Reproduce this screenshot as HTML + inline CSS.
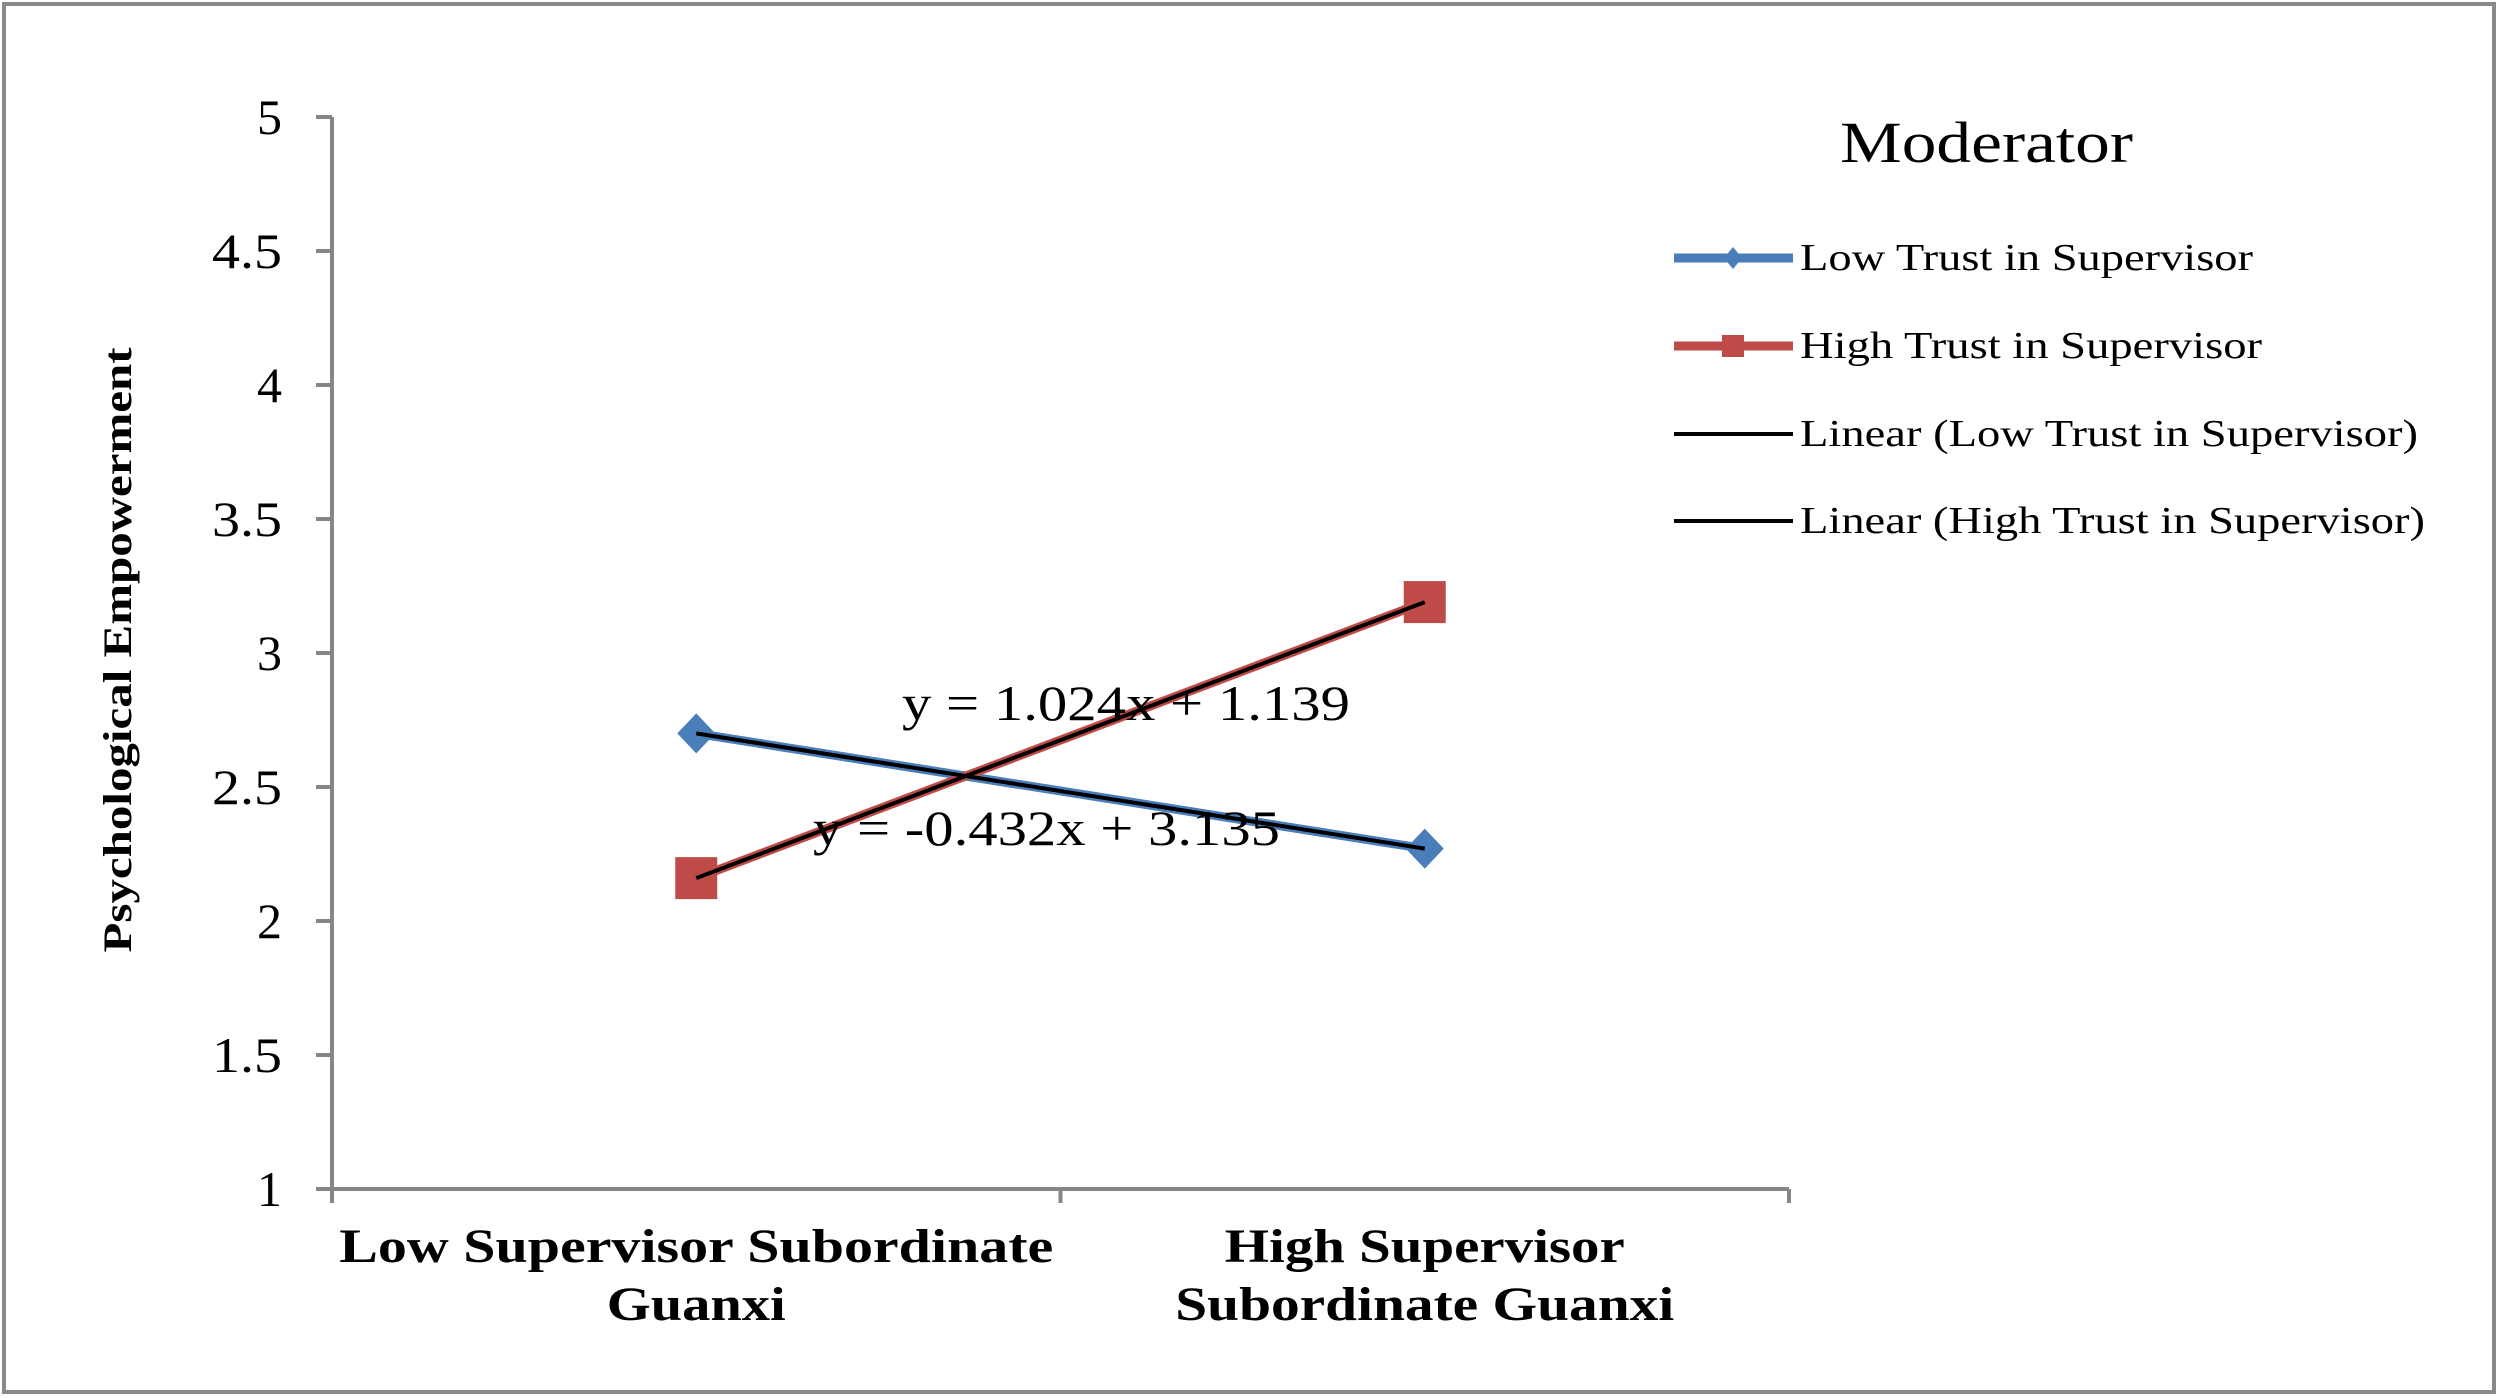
<!DOCTYPE html>
<html><head><meta charset="utf-8"><style>
html,body{margin:0;padding:0;background:#fff}
svg{display:block}
text{font-family:"Liberation Serif",serif}
</style></head><body>
<svg id="chart" width="2500" height="1398" viewBox="0 0 2500 1398">
<rect x="4" y="4" width="2490" height="1388" fill="#fff" stroke="#8a8a8a" stroke-width="4"/>
<g id="axes"></g>
<g id="series"></g>
<text x="131" y="650" transform="rotate(-90 131 650)" text-anchor="middle" font-size="40" font-weight="bold" textLength="605" lengthAdjust="spacingAndGlyphs">Psychological Empowerment</text>
<text x="1840" y="162" font-size="58" textLength="293" lengthAdjust="spacingAndGlyphs">Moderator</text>
<g>
<line x1="1674" y1="258" x2="1793" y2="258" stroke="#4a7ebb" stroke-width="9"/>
<path d="M1733 247 L1742 258 L1733 269 L1724 258Z" fill="#4a7ebb"/>
<text x="1800" y="270" font-size="38" textLength="453" lengthAdjust="spacingAndGlyphs">Low Trust in Supervisor</text></g>
<g>
<line x1="1674" y1="346" x2="1793" y2="346" stroke="#be4b48" stroke-width="9"/>
<rect x="1722" y="335" width="22" height="22" fill="#be4b48"/>
<text x="1800" y="358" font-size="38" textLength="462" lengthAdjust="spacingAndGlyphs">High Trust in Supervisor</text></g>
<g>
<line x1="1674" y1="434" x2="1793" y2="434" stroke="#000" stroke-width="4"/>
<text x="1800" y="446" font-size="38" textLength="618" lengthAdjust="spacingAndGlyphs">Linear (Low Trust in Supervisor)</text></g>
<g>
<line x1="1674" y1="521" x2="1793" y2="521" stroke="#000" stroke-width="4"/>
<text x="1800" y="533" font-size="38" textLength="625" lengthAdjust="spacingAndGlyphs">Linear (High Trust in Supervisor)</text></g>
</svg>
<script>
const categories = ["Low Supervisor Subordinate|Guanxi", "High Supervisor|Subordinate Guanxi"];
const lowTrust = [2.70, 2.27];
const highTrust = [2.16, 3.19];
const yTicks = [1, 1.5, 2, 2.5, 3, 3.5, 4, 4.5, 5];
const eqLabels = ["y = 1.024x + 1.139", "y = -0.432x + 3.135"];

const NS = "http://www.w3.org/2000/svg";
const X0 = 332, X1 = 1789, Y0 = 1189, Y1 = 117, YMIN = 1, YMAX = 5;
const band = (X1 - X0) / categories.length;
const xs = i => X0 + band * (i + 0.5);
const ys = v => Y0 - (v - YMIN) / (YMAX - YMIN) * (Y0 - Y1);
function mk(tag, attrs, parent) {
  const e = document.createElementNS(NS, tag);
  for (const k in attrs) e.setAttribute(k, attrs[k]);
  parent.appendChild(e); return e;
}
const axes = document.getElementById("axes");
const ser = document.getElementById("series");
const yAxis = mk("line", {x1: X0, y1: Y1, x2: X0, y2: Y0, stroke: "#868686", "stroke-width": 4}, axes);


const xAxis = mk("line", {x1: X0, y1: Y0, x2: X1, y2: Y0, stroke: "#868686", "stroke-width": 4}, axes);


yTicks.forEach(t => {
  const y = ys(t);
  const tk = mk("line", {x1: X0 - 16, y1: y, x2: X0, y2: y, stroke: "#868686", "stroke-width": 4}, axes);
  
  
  const s = String(t);
  const attrs = {x: 282, y: y + 17, "text-anchor": "end", "font-size": 50};
  if (s.length > 1) { attrs.textLength = 70; attrs.lengthAdjust = "spacingAndGlyphs"; }
  const lb = mk("text", attrs, axes);
  lb.textContent = s;
  
  
});
for (let i = 0; i <= categories.length; i++) {
  const x = X0 + band * i;
  const tk = mk("line", {x1: x, y1: Y0, x2: x, y2: Y0 + 14, stroke: "#868686", "stroke-width": 4}, axes);
  
  
}
const catWidths = [[714, 179], [400, 499]];
categories.forEach((c, i) => {
  const parts = c.split("|");
  parts.forEach((p, j) => {
    const lb = mk("text", {x: xs(i), y: 1262 + j * 58, "text-anchor": "middle", "font-size": 48, "font-weight": "bold", textLength: catWidths[i][j], lengthAdjust: "spacingAndGlyphs"}, axes);
    lb.textContent = p;
    
    
  });
});
function series(vals, color, marker, name) {
  const pl = mk("polyline", {points: vals.map((v, i) => xs(i) + "," + ys(v)).join(" "), fill: "none", stroke: color, "stroke-width": 9}, ser);
  
  
  vals.forEach((v, i) => {
    const x = xs(i), y = ys(v);
    let m;
    if (marker === "diamond") m = mk("path", {d: `M${x} ${y-20} L${x+19} ${y} L${x} ${y+20} L${x-19} ${y}Z`, fill: color}, ser);
    else m = mk("rect", {x: x - 21, y: y - 21, width: 42, height: 42, fill: color}, ser);
    
    
  });
}
series(lowTrust, "#4a7ebb", "diamond", "low-trust");
series(highTrust, "#be4b48", "square", "high-trust");
[lowTrust, highTrust].forEach((vals, k) => {
  const tl = mk("line", {x1: xs(0), y1: ys(vals[0]), x2: xs(1), y2: ys(vals[1]), stroke: "#000", "stroke-width": 4}, ser);
  
  
});
const e1 = mk("text", {x: 902, y: 720, "font-size": 50, textLength: 448, lengthAdjust: "spacingAndGlyphs"}, ser);
e1.textContent = eqLabels[0];


const e2 = mk("text", {x: 813, y: 845, "font-size": 50, textLength: 467, lengthAdjust: "spacingAndGlyphs"}, ser);
e2.textContent = eqLabels[1];


</script>
</body></html>
